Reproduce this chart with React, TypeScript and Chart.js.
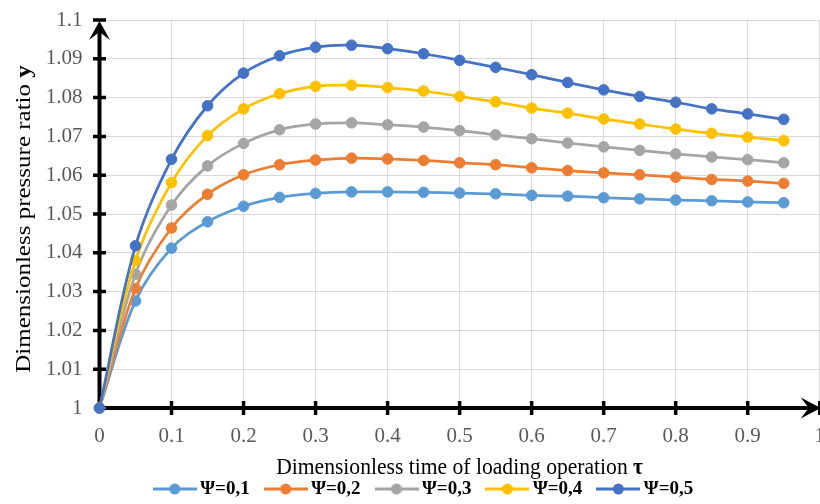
import React, { useEffect, useRef } from 'react';
import { Chart, registerables } from 'chart.js';

Chart.register(...registerables);

// ---- data ----
const tau = [0, 0.05, 0.1, 0.15, 0.2, 0.25, 0.3, 0.35, 0.4, 0.45, 0.5, 0.55, 0.6, 0.65, 0.7, 0.75, 0.8, 0.85, 0.9, 0.95];
const psi01 = [1, 1.0276, 1.0412, 1.048, 1.052, 1.0543, 1.0553, 1.0557, 1.0557, 1.0556, 1.0554, 1.0552, 1.0548, 1.0546, 1.0542, 1.0539, 1.0536, 1.0534, 1.0531, 1.0529];
const psi02 = [1, 1.0308, 1.0464, 1.0551, 1.0601, 1.0627, 1.0639, 1.0644, 1.0642, 1.0638, 1.0632, 1.0627, 1.0619, 1.0612, 1.0606, 1.0601, 1.0595, 1.0589, 1.0585, 1.0579];
const psi03 = [1, 1.0345, 1.0523, 1.0624, 1.0682, 1.0717, 1.0732, 1.0735, 1.073, 1.0724, 1.0715, 1.0704, 1.0694, 1.0683, 1.0673, 1.0664, 1.0655, 1.0647, 1.064, 1.0632];
const psi04 = [1, 1.038, 1.0581, 1.0702, 1.0771, 1.081, 1.0829, 1.0832, 1.0826, 1.0817, 1.0803, 1.0789, 1.0773, 1.076, 1.0745, 1.0732, 1.0719, 1.0708, 1.0698, 1.0689];
const psi05 = [1, 1.0418, 1.0641, 1.0779, 1.0863, 1.0908, 1.093, 1.0935, 1.0926, 1.0913, 1.0896, 1.0878, 1.0859, 1.0839, 1.082, 1.0803, 1.0788, 1.0771, 1.0758, 1.0744];

const seriesValues = [psi01, psi02, psi03, psi04, psi05];
const seriesLabels = ['Ψ=0,1', 'Ψ=0,2', 'Ψ=0,3', 'Ψ=0,4', 'Ψ=0,5'];
const seriesColors = ['#5B9BD5', '#ED7D31', '#A5A5A5', '#FFC000', '#4472C4'];

const xTickLabels = ['0', '0.1', '0.2', '0.3', '0.4', '0.5', '0.6', '0.7', '0.8', '0.9', '1'];
const yTickLabels = ['1', '1.01', '1.02', '1.03', '1.04', '1.05', '1.06', '1.07', '1.08', '1.09', '1.1'];

const xAxisTitle = 'Dimensionless time of loading operation ';
const xAxisSymbol = 'τ';
const yAxisTitle = 'Dimensionless pressure ratio ';
const yAxisSymbol = 'y';

const FONT = "'Liberation Serif', 'Times New Roman', serif";

function makeLegendIcon(color: string): HTMLCanvasElement {
  const c = document.createElement('canvas');
  c.width = 44;
  c.height = 12;
  const g = c.getContext('2d')!;
  g.strokeStyle = color;
  g.lineWidth = 3;
  g.beginPath();
  g.moveTo(0, 6);
  g.lineTo(44, 6);
  g.stroke();
  g.fillStyle = color;
  g.beginPath();
  g.arc(22, 6, 5.5, 0, Math.PI * 2);
  g.fill();
  return c;
}

// draws "regular text + bold symbol" centred on the current origin, baseline at 0
function drawMixedTitle(ctx: CanvasRenderingContext2D, text: string, symbol: string, size: number) {
  ctx.font = `${size}px ${FONT}`;
  const w1 = ctx.measureText(text).width;
  ctx.font = `bold ${size}px ${FONT}`;
  const w2 = ctx.measureText(symbol).width;
  const start = -(w1 + w2) / 2;
  ctx.textAlign = 'left';
  ctx.textBaseline = 'alphabetic';
  ctx.font = `${size}px ${FONT}`;
  ctx.fillText(text, start, 0);
  ctx.font = `bold ${size}px ${FONT}`;
  ctx.fillText(symbol, start + w1, 0);
}

const axesPlugin = {
  id: 'customAxes',
  beforeDatasetsDraw(chart: any) {
    const { ctx, chartArea, scales } = chart;
    const xs = scales.x;
    const ys = scales.y;
    const x0 = xs.getPixelForValue(xs.min);
    const x1 = xs.getPixelForValue(xs.max);
    const y0 = ys.getPixelForValue(ys.min);
    const y1 = ys.getPixelForValue(ys.max);
    ctx.save();
    ctx.strokeStyle = '#000';
    ctx.fillStyle = '#000';
    ctx.lineWidth = 4;
    ctx.lineCap = 'butt';
    // axis lines
    ctx.beginPath();
    ctx.moveTo(x0 - 2, y0);
    ctx.lineTo(x1 - 10, y0);
    ctx.moveTo(x0, y0 + 2);
    ctx.lineTo(x0, y1 + 10);
    ctx.stroke();
    // cross tick marks
    ctx.lineWidth = 3.5;
    ctx.beginPath();
    xs.ticks.forEach((t: any) => {
      if (t.value <= xs.min) return;
      const px = xs.getPixelForValue(t.value);
      ctx.moveTo(px, y0 - 7);
      ctx.lineTo(px, y0 + 7);
    });
    ys.ticks.forEach((t: any) => {
      if (t.value <= ys.min) return;
      const py = ys.getPixelForValue(t.value);
      ctx.moveTo(x0 - 6.5, py);
      ctx.lineTo(x0 + 6.5, py);
    });
    ctx.stroke();
    // arrow heads (stealth)
    ctx.beginPath();
    ctx.moveTo(x1 + 1, y0);
    ctx.lineTo(x1 - 19, y0 - 10.5);
    ctx.lineTo(x1 - 11, y0);
    ctx.lineTo(x1 - 19, y0 + 10.5);
    ctx.closePath();
    ctx.fill();
    ctx.beginPath();
    ctx.moveTo(x0, y1 + 1);
    ctx.lineTo(x0 - 10.5, y1 + 20);
    ctx.lineTo(x0, y1 + 12);
    ctx.lineTo(x0 + 10.5, y1 + 20);
    ctx.closePath();
    ctx.fill();

    // axis titles (slightly condensed, like the reference)
    ctx.fillStyle = '#000';
    ctx.save();
    ctx.translate(30, (chartArea.top + chartArea.bottom) / 2 + 5);
    ctx.scale(0.87, 1);
    ctx.rotate(-Math.PI / 2);
    drawMixedTitle(ctx, yAxisTitle, yAxisSymbol, 25);
    ctx.restore();

    ctx.save();
    ctx.translate((chartArea.left + chartArea.right) / 2, chartArea.bottom + 66);
    ctx.scale(0.9, 1);
    drawMixedTitle(ctx, xAxisTitle, xAxisSymbol, 24);
    ctx.restore();
    ctx.restore();
  },
};

export default function App() {
  const canvasRef = useRef<HTMLCanvasElement | null>(null);

  useEffect(() => {
    const canvas = canvasRef.current;
    if (!canvas) return;
    const icons = seriesColors.map((c) => makeLegendIcon(c));
    const datasets = seriesValues.map((vals, i) => ({
      label: seriesLabels[i],
      data: vals.map((v, j) => ({ x: tau[j], y: v })),
      borderColor: seriesColors[i],
      backgroundColor: seriesColors[i],
      pointBackgroundColor: seriesColors[i],
      pointBorderColor: seriesColors[i],
      pointBorderWidth: 1,
      pointRadius: 5.3,
      borderWidth: 2.75,
      tension: 0.35,
      fill: false,
      clip: 12,
      order: seriesValues.length - i,
    }));

    const chart = new Chart(canvas, {
      type: 'line',
      data: { datasets },
      plugins: [axesPlugin],
      options: {
        animation: false,
        responsive: false,
        layout: { padding: { left: 24, right: 0, top: 20, bottom: -4.5 } },
        plugins: {
          tooltip: { enabled: false },
          legend: {
            position: 'bottom',
            labels: {
              usePointStyle: true,
              pointStyleWidth: 32,
              boxHeight: 12,
              padding: 20,
              color: '#000',
              font: { family: FONT, size: 19, weight: 'bold' },
              generateLabels: () =>
                seriesLabels.map((label, i) => ({
                  text: label,
                  fillStyle: seriesColors[i],
                  strokeStyle: seriesColors[i],
                  lineWidth: 0,
                  pointStyle: icons[i],
                  datasetIndex: i,
                  hidden: false,
                  fontColor: '#000',
                })),
            },
          },
        },
        scales: {
          x: {
            type: 'linear',
            min: 0,
            max: 1,
            afterFit: (scale: any) => {
              scale.height = 51.5;
              scale.paddingLeft = 0;
              scale.paddingRight = 8.25;
            },
            border: { display: false },
            grid: { color: '#D9D9D9', lineWidth: 1, drawTicks: false },
            ticks: {
              stepSize: 0.1,
              padding: 16,
              color: '#595959',
              font: { family: FONT, size: 21 },
              maxRotation: 0,
              autoSkip: false,
              callback: (_v: any, i: number) => xTickLabels[i] ?? '',
            },
          },
          y: {
            type: 'linear',
            min: 1,
            max: 1.1,
            afterFit: (scale: any) => {
              scale.width = 75.5;
              scale.paddingTop = 0;
              scale.paddingBottom = 0;
            },
            border: { display: false },
            grid: { color: '#D9D9D9', lineWidth: 1, drawTicks: false },
            ticks: {
              stepSize: 0.01,
              padding: 17,
              color: '#595959',
              font: { family: FONT, size: 21 },
              autoSkip: false,
              callback: (_v: any, i: number) => yTickLabels[i] ?? '',
            },
          },
        },
      },
    } as any);
    return () => chart.destroy();
  }, []);

  return (
    <div
      style={{
        position: 'fixed',
        left: 0,
        top: 0,
        width: 820,
        height: 504,
        overflow: 'hidden',
        background: '#fff',
      }}
    >
      <canvas ref={canvasRef} width={828} height={504} style={{ width: 828, height: 504, display: 'block' }} />
    </div>
  );
}
